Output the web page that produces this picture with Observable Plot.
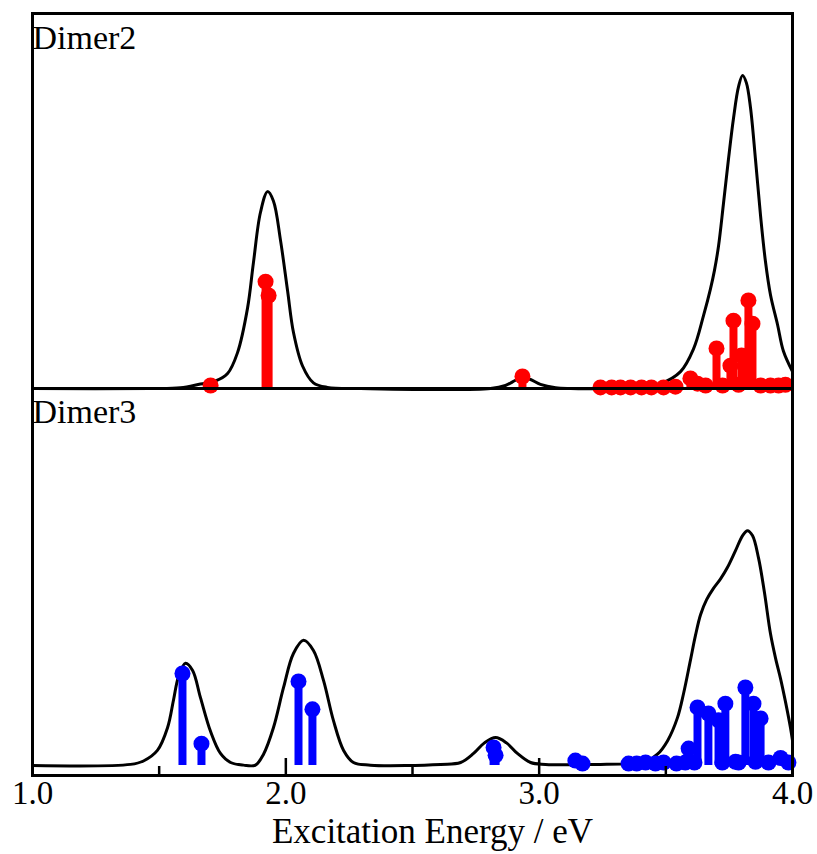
<!DOCTYPE html>
<html>
<head>
<meta charset="utf-8">
<script src="https://cdn.jsdelivr.net/npm/d3@7"></script>
<script src="https://cdn.jsdelivr.net/npm/@observablehq/plot@0.6"></script>
<style>
  html, body { margin: 0; padding: 0; background: #fff; }
  #chart { width: 817px; }
  #chart svg { display: block; overflow: visible; }
</style>
</head>
<body>
<div id="chart"></div>
<script>
// ---------- Data ----------
const panelLabels = ["Dimer2", "Dimer3"];
const xTicks = [1, 2, 3, 4];
const xMinorTicks = [1.5, 2.5, 3.5];
const yTicks = [0.5];
const xLabel = "Excitation Energy / eV";

// Dimer2 broadened spectrum
const curve2E = [1.00, 1.466, 1.584, 1.663, 1.722, 1.770, 1.809, 1.849, 1.872, 1.900, 1.928, 1.951, 1.979, 2.007, 2.030, 2.066, 2.109, 2.164, 2.295,
  2.808, 2.867, 2.907, 2.934, 2.966, 3.005, 3.065, 3.124,
  3.242, 3.321, 3.400, 3.479, 3.558, 3.609, 3.649, 3.676, 3.692, 3.708, 3.727, 3.747, 3.767, 3.787, 3.803, 3.818, 3.834, 3.854, 3.874, 3.893, 3.913, 3.941, 3.964, 4.00];
const curve2I = [0, 0, 0.002, 0.012, 0.020, 0.040, 0.095, 0.215, 0.335, 0.470, 0.525, 0.500, 0.395, 0.260, 0.150, 0.060, 0.015, 0.003, 0,
  0, 0.008, 0.022, 0.029, 0.024, 0.011, 0.002, 0,
  0, 0.003, 0.005, 0.013, 0.045, 0.105, 0.195, 0.265, 0.315, 0.380, 0.490, 0.610, 0.720, 0.805, 0.835, 0.815, 0.750, 0.610, 0.460, 0.340, 0.250, 0.170, 0.100, 0.045];

// Dimer2 sticks
const stick2E = [1.703, 1.920, 1.932, 2.934, 3.242, 3.286, 3.321, 3.361, 3.404, 3.443, 3.491, 3.538, 3.597, 3.625, 3.657, 3.700, 3.724, 3.755, 3.767, 3.787, 3.799, 3.826, 3.842, 3.874, 3.913, 3.945, 3.972];
const stick2F = [0.008, 0.285, 0.248, 0.032, 0.003, 0.003, 0.003, 0.003, 0.003, 0.003, 0.003, 0.005, 0.027, 0.013, 0.008, 0.107, 0.008, 0.061, 0.181, 0.010, 0.088, 0.235, 0.173, 0.008, 0.008, 0.008, 0.010];

// Dimer3 broadened spectrum
const curve3E = [1.00, 1.387, 1.438, 1.493, 1.533, 1.557, 1.576, 1.604, 1.632, 1.663, 1.703, 1.742, 1.782, 1.833, 1.880,
  1.912, 1.951, 1.991, 2.030, 2.070, 2.109, 2.149, 2.188, 2.228, 2.267, 2.334,
  2.611, 2.690, 2.741, 2.784, 2.828, 2.871, 2.914, 2.966, 3.025,
  3.242, 3.361, 3.420, 3.467, 3.507, 3.546, 3.570, 3.597, 3.617, 3.637, 3.661, 3.688, 3.716, 3.743, 3.775, 3.803, 3.822, 3.842, 3.866, 3.889, 3.913, 3.933, 3.953, 3.972, 3.992, 4.00];
const curve3I = [0, 0.003, 0.012, 0.040, 0.100, 0.175, 0.235, 0.271, 0.252, 0.180, 0.090, 0.032, 0.008, 0.001, 0.001,
  0.030, 0.100, 0.207, 0.297, 0.332, 0.305, 0.225, 0.119, 0.040, 0.008, 0.001,
  0.003, 0.008, 0.032, 0.060, 0.074, 0.060, 0.032, 0.008, 0.003,
  0.003, 0.005, 0.010, 0.030, 0.066, 0.127, 0.191, 0.279, 0.345, 0.400, 0.440, 0.470, 0.495, 0.525, 0.570, 0.610, 0.623, 0.610, 0.550, 0.460, 0.350, 0.285, 0.230, 0.170, 0.100, 0.066];

// Dimer3 sticks
const stick3E = [1.592, 1.667, 2.050, 2.105, 2.820, 2.828, 3.143, 3.171, 3.353, 3.385, 3.420, 3.459, 3.491, 3.542, 3.577, 3.590, 3.613, 3.625, 3.668, 3.708, 3.723, 3.735, 3.775, 3.787, 3.814, 3.846, 3.854, 3.874, 3.905, 3.953, 3.984];
const stick3F = [0.244, 0.058, 0.223, 0.149, 0.048, 0.027, 0.013, 0.005, 0.005, 0.005, 0.008, 0.005, 0.008, 0.005, 0.008, 0.045, 0.008, 0.154, 0.138, 0.120, 0.008, 0.164, 0.010, 0.008, 0.207, 0.164, 0.010, 0.125, 0.008, 0.020, 0.008];

// ---------- Build tables ----------
const zip = (xs, ys) => xs.map((x, i) => ({e: x, v: ys[i]}));
const curve2 = zip(curve2E, curve2I);
const curve3 = zip(curve3E, curve3I);
const sticks2 = zip(stick2E, stick2F);
const sticks3 = zip(stick3E, stick3F);

const FONT = "'Liberation Serif', 'Times New Roman', Times, serif";
const W = 817;
const ML = 32, MR = 25;

function panel({curve, sticks, color, label, height, marginTop, marginBottom, yDomain, bottomAxis, labelDy}) {
  const marks = [
    Plot.line(curve, {x: "e", y: "v", stroke: "#000", strokeWidth: 3, curve: "catmull-rom"}),
    Plot.ruleX(sticks, {x: "e", y1: 0, y2: "v", stroke: color, strokeWidth: 8}),
    Plot.dot(sticks, {x: "e", y: "v", r: 8, fill: color, stroke: "none"}),
    Plot.frame({stroke: "#000", strokeWidth: 3}),
    Plot.ruleY(yTicks, {x1: 1, x2: 1.008, stroke: "#000", strokeWidth: 1.5}),
    Plot.text([label], {frameAnchor: "top-left", textAnchor: "start", lineAnchor: "top", dx: 0, dy: labelDy, fontSize: 34, fill: "#000"})
  ];
  if (bottomAxis) {
    marks.push(
      Plot.tickX(xTicks, {x: d => d, insetTop: height - marginTop - marginBottom - 17, stroke: "#000", strokeWidth: 2.5}),
      Plot.tickX(xMinorTicks, {x: d => d, insetTop: height - marginTop - marginBottom - 9, stroke: "#000", strokeWidth: 2.5}),
      Plot.axisX(xTicks, {tickSize: 0, tickPadding: 5, tickFormat: d => d.toFixed(1), fontSize: 33, label: null, fill: "#000"}),
      Plot.text([xLabel], {frameAnchor: "bottom", lineAnchor: "middle", dy: 56, dx: 20, fontSize: 35, fill: "#000"})
    );
  }
  return Plot.plot({
    width: W,
    height,
    marginLeft: ML,
    marginRight: MR,
    marginTop,
    marginBottom,
    style: {fontFamily: FONT, background: "transparent", overflow: "visible"},
    x: {domain: [1, 4], axis: null},
    y: {domain: yDomain, axis: null},
    marks
  });
}

const topPanel = panel({curve: curve2, sticks: sticks2, color: "#ff0000", label: panelLabels[0],
  height: 388, marginTop: 13, marginBottom: 0, yDomain: [0, 1], bottomAxis: false, labelDy: 11});
const bottomPanel = panel({curve: curve3, sticks: sticks3, color: "#0000ff", label: panelLabels[1],
  height: 466, marginTop: 0, marginBottom: 79, yDomain: [-0.0265, 1], bottomAxis: true, labelDy: 10});

const chart = document.getElementById("chart");
chart.appendChild(topPanel);
chart.appendChild(bottomPanel);
</script>
</body>
</html>
